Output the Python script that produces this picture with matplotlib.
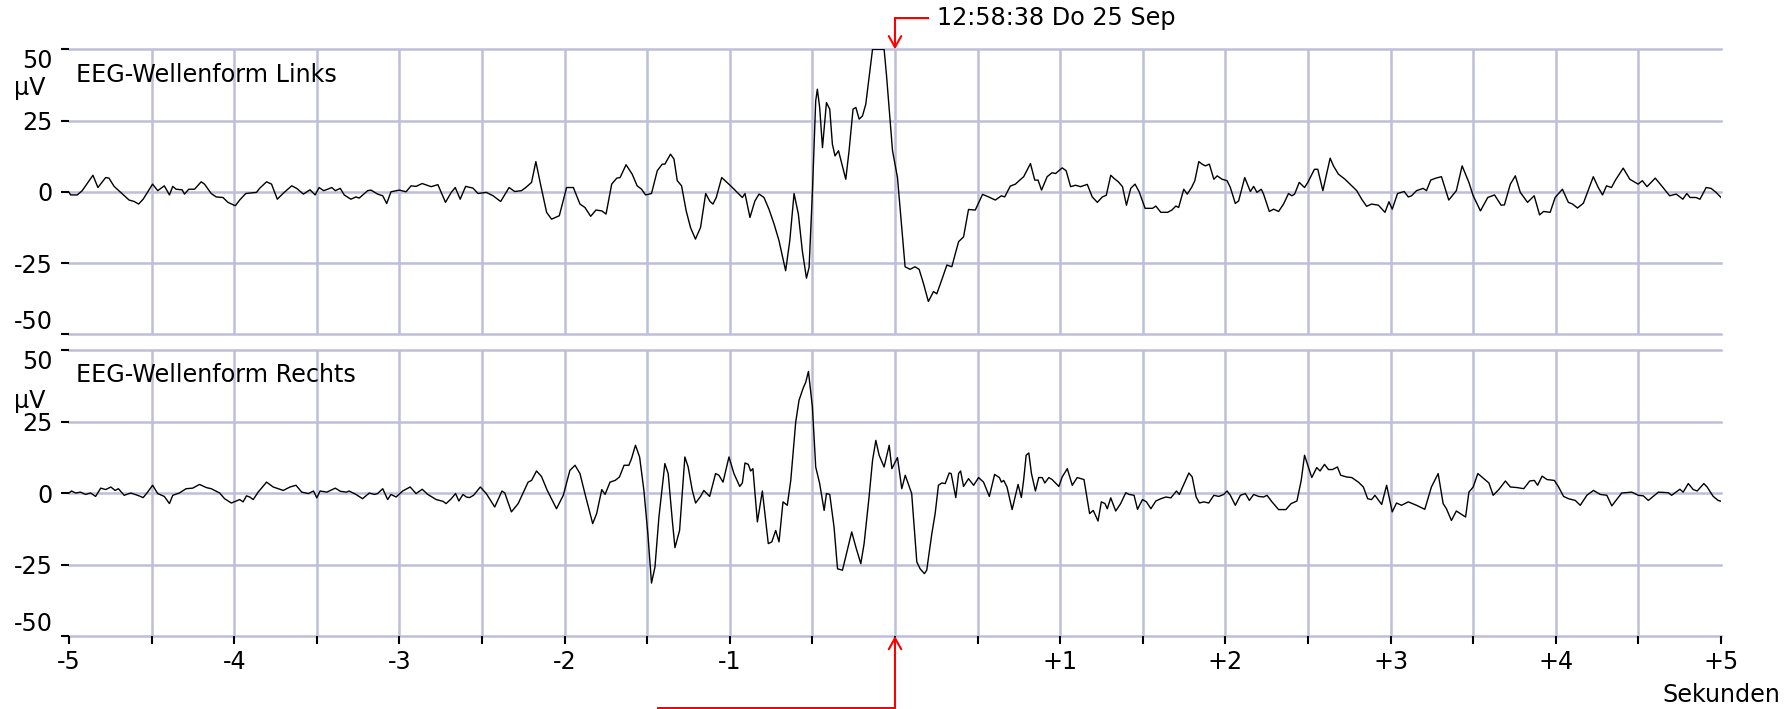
import numpy as np
import matplotlib
matplotlib.use('Agg')
from matplotlib import pyplot as plt

# Zeitachse in Sekunden relativ zum Ereignis, Amplitude in µV

# Kanal links
t_links = [
    -5.0, -4.99, -4.95, -4.92, -4.855, -4.825, -4.778, -4.758, -4.727, -4.676,
    -4.636, -4.605, -4.579, -4.551, -4.494, -4.463, -4.423, -4.392, -4.372, -4.352,
    -4.315, -4.301, -4.275, -4.240, -4.200, -4.180, -4.139, -4.109, -4.068, -4.038,
    -3.993, -3.967, -3.930, -3.865, -3.845, -3.804, -3.774, -3.739, -3.703, -3.652,
    -3.622, -3.581, -3.541, -3.510, -3.486, -3.459, -3.439, -3.409, -3.388, -3.358,
    -3.334, -3.294, -3.263, -3.243, -3.192, -3.172, -3.132, -3.101, -3.077, -3.051,
    -3.000, -2.960, -2.929, -2.899, -2.862, -2.808, -2.767, -2.721, -2.686, -2.662,
    -2.632, -2.599, -2.555, -2.524, -2.474, -2.433, -2.387, -2.336, -2.302, -2.261,
    -2.235, -2.200, -2.174, -2.146, -2.109, -2.079, -2.032, -1.988, -1.947, -1.907,
    -1.877, -1.842, -1.810, -1.775, -1.749, -1.715, -1.684, -1.664, -1.628,
    -1.591, -1.561, -1.534, -1.510, -1.474, -1.439, -1.409, -1.393, -1.359, -1.338,
    -1.318, -1.292, -1.264, -1.238, -1.208, -1.177, -1.146, -1.120, -1.102, -1.082,
    -1.049, -0.995, -0.955, -0.924, -0.908, -0.878, -0.848, -0.823, -0.793, -0.763,
    -0.732, -0.702, -0.662, -0.637, -0.611, -0.585, -0.561, -0.536, -0.520, -0.500,
    -0.480, -0.470, -0.456, -0.439, -0.415, -0.395, -0.379, -0.363, -0.342, -0.298,
    -0.278, -0.254, -0.237, -0.217, -0.197, -0.177, -0.136, -0.066, -0.052, -0.015,
    0.015,
    0.061, 0.091, 0.121, 0.146, 0.172, 0.202, 0.233, 0.253, 0.283, 0.314,
    0.344, 0.360, 0.385, 0.415, 0.445, 0.486, 0.530, 0.567, 0.607, 0.644,
    0.664, 0.698, 0.729, 0.759, 0.779, 0.820, 0.846, 0.866, 0.887, 0.921,
    0.951, 0.972, 1.012, 1.036, 1.063, 1.093, 1.123, 1.164, 1.194, 1.225,
    1.255, 1.279, 1.306, 1.326, 1.352, 1.377, 1.401, 1.427, 1.453, 1.478,
    1.514, 1.559, 1.579, 1.609, 1.650, 1.676, 1.700, 1.717,
    1.748, 1.769, 1.795, 1.815, 1.839, 1.859, 1.879, 1.903, 1.930, 1.950,
    1.980, 2.010, 2.030, 2.060, 2.080, 2.117, 2.151, 2.171, 2.191, 2.217,
    2.231, 2.266, 2.292, 2.322, 2.352, 2.382, 2.402, 2.419, 2.447, 2.479,
    2.499, 2.539, 2.559, 2.590, 2.634, 2.654, 2.684, 2.724, 2.765, 2.795,
    2.825, 2.855, 2.885, 2.926, 2.966, 2.990, 3.010, 3.042, 3.082, 3.107,
    3.127, 3.157, 3.197, 3.217, 3.243, 3.274, 3.308, 3.352, 3.398, 3.433,
    3.474, 3.500, 3.544, 3.588, 3.629, 3.669, 3.689, 3.725, 3.755, 3.785,
    3.829, 3.869, 3.902, 3.926, 3.966, 3.996, 4.040, 4.076, 4.102, 4.131,
    4.167, 4.227, 4.257, 4.283, 4.307, 4.337, 4.361, 4.408, 4.448, 4.498,
    4.524, 4.552, 4.602, 4.649, 4.689, 4.729, 4.769, 4.793, 4.813, 4.849,
    4.873, 4.910, 4.940, 4.970, 5.000,
]
v_links = [
    -0.2, -1.1, -1.1, 0.4, 5.8, 1.5, 5.0, 4.8, 1.9, -0.8,
    -2.9, -3.4, -4.3, -2.6, 2.7, 0.4, 2.1, -1.1, 1.9, 0.9,
    0.7, -0.8, 0.9, 0.9, 3.5, 2.7, -0.6, -1.8, -2.0, -3.7,
    -4.9, -2.9, -0.6, -0.2, 1.3, 3.5, 2.7, -2.6, -0.5, 2.1,
    1.2, -0.8, 0.7, -1.1, 1.5, 0.4, 0.8, 1.5, 0.4, 1.2,
    -1.1, -2.6, -1.8, -2.2, 0.4, 0.6, -0.8, -1.4, -4.1, 0.0,
    0.6, 0.0, 2.1, 1.9, 2.9, 1.8, 2.5, -3.7, -0.2, 1.5,
    -2.6, 1.9, 1.3, -0.6, -0.2, -1.4, -3.4, 1.5, 0.1, 0.4,
    1.5, 3.3, 10.6, 2.7, -7.2, -9.6, -8.4, 1.5, 1.5, -4.3,
    -5.5, -8.6, -6.4, -6.7, -7.8, 2.7, 4.8, 5.0, 9.5,
    6.2, 2.1, 0.9, -1.1, -0.6, 7.4, 9.7, 9.7, 13.2, 11.5,
    3.9, 2.1, -6.7, -12.5, -16.6, -12.5, -0.6, -3.4, -4.3, -2.0,
    5.0, 2.1, -0.2, -2.0, -0.6, -9.0, -3.2, -0.8, -2.0, -6.1,
    -11.3, -17.2, -27.7, -17.2, -0.6, -7.8, -20.7, -30.3, -26.5, -0.2,
    31.9, 36.0, 29.6, 15.5, 31.3, 29.0, 16.7, 12.6, 14.4, 4.4,
    14.4, 29.0, 29.6, 25.5, 26.6, 30.7, 50.0, 50.0, 41.3, 14.4,
    5.0,
    -26.3, -27.2, -26.3, -27.2, -32.1, -38.5, -35.0, -35.8, -30.9, -25.7,
    -26.3, -22.8, -17.5, -15.8, -6.2, -6.4, -0.9, -1.8, -2.9, -1.4,
    -1.8, 2.0, 2.7, 4.3, 5.3, 9.9, 4.1, 4.1, 0.6, 5.3,
    6.7, 6.4, 8.4, 7.4, 1.8, 2.3, 1.8, 2.6, -1.8, -3.7,
    -1.8, -1.2, 5.8, 4.7, 3.5, 1.8, -4.7, 1.2, 2.7, 0.0,
    -5.8, -5.8, -5.0, -7.2, -7.2, -6.4, -5.0, -5.5,
    0.9, -0.8, 1.5, 3.9, 10.6, 9.7, 9.1, 9.7, 4.4, 5.6,
    4.4, 3.9, 1.5, -4.1, -3.2, 5.0, 0.1, 1.9, -0.2, 0.9,
    -0.8, -6.9, -6.1, -6.9, -4.3, -0.6, -1.4, -0.8, 3.3, 1.5,
    3.3, 7.9, 7.9, 0.4, 11.8, 9.1, 6.2, 4.4, 2.1, 0.4,
    -2.6, -5.1, -4.3, -4.7, -7.2, -3.5, -6.1, -0.6, 0.1, -1.8,
    -1.4, 0.4, 1.2, 0.4, 4.1, 4.8, 5.3, -2.9, 0.4, 9.1,
    3.3, -1.4, -6.7, -2.0, -1.1, -4.7, -4.6, 2.7, 5.6, -0.2,
    -3.7, -1.4, -8.1, -6.9, -7.2, -2.0, 0.9, -3.7, -4.3, -5.7,
    -4.0, 5.3, 1.5, -1.1, 2.1, 1.5, 4.1, 8.3, 4.4, 2.7,
    3.9, 1.8, 4.8, 1.5, -1.4, -0.8, -2.6, -0.6, -2.0, -2.0,
    -2.6, 1.5, 1.2, -0.2, -2.0,
]

# Kanal rechts
t_rechts = [
    -5.0, -4.985, -4.960, -4.930, -4.900, -4.869, -4.839, -4.808, -4.778, -4.747,
    -4.721, -4.701, -4.666, -4.626, -4.585, -4.551, -4.524, -4.494, -4.463, -4.423,
    -4.392, -4.372, -4.332, -4.291, -4.251, -4.210, -4.169, -4.139, -4.088, -4.058,
    -4.017, -3.967, -3.946, -3.926, -3.906, -3.885, -3.855, -3.804, -3.764, -3.703,
    -3.662, -3.626, -3.591, -3.551, -3.520, -3.500, -3.480, -3.439, -3.388, -3.358,
    -3.321,
    -3.304, -3.263, -3.223, -3.182, -3.152, -3.132, -3.101, -3.071, -3.051, -3.020,
    -2.980, -2.935, -2.899, -2.862, -2.828, -2.777, -2.737, -2.717, -2.686, -2.660,
    -2.640, -2.615, -2.595, -2.575, -2.551, -2.510, -2.474, -2.423, -2.379, -2.362,
    -2.322, -2.281, -2.221, -2.200, -2.170, -2.140, -2.105, -2.049, -2.008, -1.968,
    -1.937, -1.907, -1.877, -1.830, -1.806, -1.775, -1.755, -1.725, -1.694, -1.668,
    -1.640,
    -1.611, -1.595, -1.571, -1.546, -1.520, -1.496, -1.474, -1.453, -1.429, -1.393,
    -1.373, -1.348, -1.332, -1.304, -1.272, -1.252, -1.227, -1.207, -1.177, -1.157,
    -1.122, -1.086, -1.066, -1.041, -1.005, -0.975, -0.940, -0.924, -0.908, -0.888,
    -0.874, -0.860, -0.833, -0.803, -0.767, -0.746, -0.722, -0.702, -0.678, -0.652,
    -0.631, -0.601, -0.581, -0.557, -0.540, -0.524, -0.500, -0.480, -0.456, -0.429,
    -0.415, -0.395, -0.369, -0.348, -0.318, -0.294, -0.262, -0.237, -0.207, -0.187,
    -0.157, -0.136, -0.116, -0.096, -0.066, -0.035, -0.019, 0.015, 0.041, 0.062,
    0.101, 0.132, 0.152, 0.178, 0.192, 0.223, 0.243, 0.263, 0.283, 0.304,
    0.328, 0.340, 0.368, 0.385, 0.397, 0.415, 0.445, 0.476, 0.506, 0.536,
    0.571, 0.603, 0.632, 0.644, 0.658, 0.678, 0.709, 0.745, 0.765, 0.779,
    0.794, 0.810, 0.826, 0.850, 0.870, 0.891, 0.907, 0.931, 0.951, 0.992,
    1.012, 1.043, 1.073, 1.103, 1.144, 1.178, 1.200, 1.229, 1.249, 1.271,
    1.285, 1.306, 1.336, 1.366, 1.397, 1.417, 1.447, 1.468, 1.498, 1.522,
    1.549, 1.579, 1.609, 1.640, 1.670, 1.704, 1.721,
    1.779, 1.799, 1.823, 1.843, 1.869, 1.899, 1.930, 1.960, 1.990, 2.010,
    2.030, 2.060, 2.091, 2.121, 2.145, 2.171, 2.201, 2.231, 2.252, 2.282,
    2.322, 2.366, 2.398, 2.433, 2.459, 2.479, 2.499, 2.523, 2.553, 2.573,
    2.600, 2.624, 2.648, 2.678, 2.698, 2.734, 2.765, 2.805, 2.835, 2.861,
    2.885, 2.905, 2.946, 2.976, 3.010, 3.036, 3.066, 3.107, 3.157, 3.207,
    3.247, 3.288, 3.318, 3.338, 3.368, 3.398,
    3.454, 3.474, 3.500, 3.528, 3.564, 3.595, 3.621, 3.655, 3.695, 3.725,
    3.766, 3.806, 3.842, 3.870, 3.890, 3.917, 3.947, 3.991, 4.017, 4.047,
    4.077, 4.118, 4.148, 4.188, 4.228, 4.269, 4.309, 4.339, 4.399, 4.460,
    4.500, 4.530, 4.560, 4.621, 4.681, 4.701, 4.751, 4.771, 4.802, 4.832,
    4.856, 4.896, 4.916, 4.953, 4.983, 5.000,
]
v_rechts = [
    0.0, 0.7, 0.0, 0.3, -0.5, 0.0, -1.2, 1.7, 1.2, 2.1,
    0.9, 1.5, -0.8, 0.0, -0.8, -1.6, 0.3, 2.7, -0.2, -1.2,
    -3.7, -0.8, 0.0, 1.5, 1.7, 3.0, 1.9, 1.5, 0.0, -2.0,
    -3.5, -2.3, -3.1, -1.0, -1.4, -2.3, 0.3, 3.8, 2.1, 0.9,
    2.1, 2.7, 0.3, -0.2, 0.7, -1.7, 0.7, 0.3, 1.7, 0.6,
    0.3,
    0.7, -0.5, -2.0, 0.0, -0.5, -0.2, 1.5, -2.3, -0.5, -1.4,
    0.7, 2.1, -0.2, 1.3, -0.5, -2.3, -2.9, -3.7, -2.0, -0.2,
    -2.8, -0.5, -1.4, -1.6, -0.8, 2.1, -0.2, -4.9, 0.7, 0.0,
    -6.6, -3.7, 3.8, 4.4, 7.7, 5.8, 0.9, -5.5, -0.8, 7.9,
    9.7, 6.8, -0.2, -10.7, -7.2, 1.2, -0.5, 3.8, 4.4, 5.6,
    9.7,
    9.7, 12.0, 16.7, 12.6, 0.9, -14.3, -31.5, -25.9, -8.4, 10.3,
    6.8, -9.6, -19.1, -13.1, 12.6, 9.1, 0.9, -3.5, -1.2, 0.9,
    -1.2, 6.8, 6.2, 3.8, 12.6, 6.8, 2.3, 3.5, 10.5, 10.0,
    7.7, 8.5, -10.1, 0.7, -17.7, -17.1, -13.1, -17.1, -3.1, -4.3,
    4.4, 24.8, 32.4, 36.5, 38.8, 42.5, 30.1, 9.1, 3.3, -6.1,
    -0.2, -0.5, -11.9, -26.5, -27.0, -21.2, -13.6, -18.9, -24.7, -17.7,
    -1.4, 11.4, 18.4, 13.2, 9.1, 16.7, 8.5, 12.4, 1.5, 6.2,
    -0.2, -24.1, -26.5, -28.2, -27.0, -14.2, -7.2, 2.7, 3.5, 3.3,
    7.0, 6.8, -1.6, 6.8, 7.7, 2.3, 5.0, 2.7, 5.4, 3.8,
    -1.2, 6.5, 5.4, 3.8, 4.4, 2.1, -5.8, 3.0, -1.6, 4.7,
    13.2, 14.0, 6.8, 0.7, 5.4, 5.4, 3.5, 5.4, 4.7, 2.3,
    5.6, 8.5, 2.7, 5.4, 4.7, -7.2, -6.1, -9.8, -3.1, -3.7,
    -5.5, -1.7, -6.3, -3.7, 0.1, -0.5, -0.8, -5.7, -2.3, -3.1,
    -5.5, -2.8, -2.0, -1.4, -1.7, 0.7, -0.5,
    7.0, 5.6, -1.4, -3.5, -3.1, -3.5, -0.8, -1.2, -0.5, 0.7,
    -0.8, -4.3, -0.8, -0.2, -2.6, -0.5, -1.2, -1.4, -0.8, -3.1,
    -5.8, -5.8, -3.7, -2.8, 4.4, 13.2, 9.7, 5.4, 8.9, 7.7,
    10.0, 8.2, 8.2, 9.1, 6.2, 5.6, 5.4, 3.8, 2.1, -2.0,
    -2.3, -0.8, -4.0, 2.7, -6.6, -3.5, -4.3, -3.1, -4.3, -5.7,
    2.1, 6.8, -3.7, -5.5, -9.6, -6.3,
    -8.4, 0.3, 2.1, 6.8, 5.0, 3.5, -0.8, 1.2, 4.2, 2.1,
    1.9, 1.5, 4.2, 4.4, 2.7, 5.9, 4.7, 4.4, 2.1, -1.2,
    -2.0, -2.6, -4.3, -0.8, 0.9, -0.5, -0.8, -4.5, 0.0, 0.3,
    -0.8, -1.0, -2.6, 0.3, 0.1, -0.8, 1.3, 0.3, 3.3, 1.2,
    0.7, 3.3, 2.1, -1.2, -2.6, -2.9,
]

y_ticks = [-50, -25, 0, 25, 50]
y_labels = ['-50', '-25', '0', '25', '50']
x_ticks = [-5, -4, -3, -2, -1, 0, 1, 2, 3, 4, 5]
x_labels = ['-5', '-4', '-3', '-2', '-1', '', '+1', '+2', '+3', '+4', '+5']

zeitstempel = '12:58:38 Do 25 Sep'

GITTER = '#bebedb'
FS = 17.2

fig = plt.figure(figsize=(17.91, 7.09), dpi=100)
ax_links = fig.add_axes([69 / 1791, 1 - 334.3 / 709, 1652 / 1791, 285 / 709])
ax_rechts = fig.add_axes([69 / 1791, 1 - 636 / 709, 1652 / 1791, 286 / 709])


def panel(ax, t, v, titel, uv_y):
    ax.set_xlim(-5, 5)
    ax.set_ylim(-50, 50)
    for s in ax.spines.values():
        s.set_visible(False)

    # Gitter
    for x in np.arange(-4.5, 5, 0.5):
        ax.axvline(x, color=GITTER, lw=1.8, zorder=1)
    for y in y_ticks:
        ax.axhline(y, color=GITTER, lw=1.8, zorder=1, clip_on=False)

    ax.plot(t, v, color='black', lw=1.0, zorder=3)

    ax.set_yticks(y_ticks)
    ax.set_yticklabels(y_labels)
    ax.tick_params(axis='y', length=5.8, width=1.5, pad=6.0, labelsize=FS)
    lbl = ax.get_yticklabels()
    lbl[0].set_va('bottom')
    lbl[-1].set_va('top')

    ax.text(-0.0333, uv_y, 'µV', transform=ax.transAxes, ha='left',
            va='baseline', fontsize=FS)
    ax.text(0.004, 0.887, titel, transform=ax.transAxes, ha='left',
            va='baseline', fontsize=FS)


panel(ax_links, t_links, v_links, 'EEG-Wellenform Links', 0.838)
panel(ax_rechts, t_rechts, v_rechts, 'EEG-Wellenform Rechts', 0.796)

ax_links.tick_params(axis='x', bottom=False, labelbottom=False)

ax_rechts.set_xticks(x_ticks)
ax_rechts.set_xticklabels(x_labels)
ax_rechts.set_xticks(np.arange(-4.5, 5, 1.0), minor=True)
ax_rechts.tick_params(axis='x', which='both', length=5.8, width=1.5,
                      pad=4, labelsize=FS)

# Markierung des Ereignisses oben
pfeil = dict(arrowstyle='->,head_length=0.8,head_width=0.45', color='red',
             lw=1.5, shrinkA=0, shrinkB=0, mutation_scale=10)
ax_links.plot([0, 0.2], [61, 61], color='red', lw=1.5, clip_on=False)
ax_links.annotate('', xy=(0, 50), xytext=(0, 61), arrowprops=pfeil,
                  annotation_clip=False)
ax_links.text(0.253, 61, zeitstempel, ha='left', va='center', fontsize=FS,
              clip_on=False)

# Markierung unten
ax_rechts.plot([-1.436, 0], [-75, -75], color='red', lw=1.5, clip_on=False)
ax_rechts.annotate('', xy=(0, -50), xytext=(0, -75), arrowprops=pfeil,
                   annotation_clip=False)

fig.text(1780 / 1791, 1 - 694.5 / 709, 'Sekunden', ha='right', va='center',
         fontsize=FS)

fig.savefig('out.png', dpi=100)
